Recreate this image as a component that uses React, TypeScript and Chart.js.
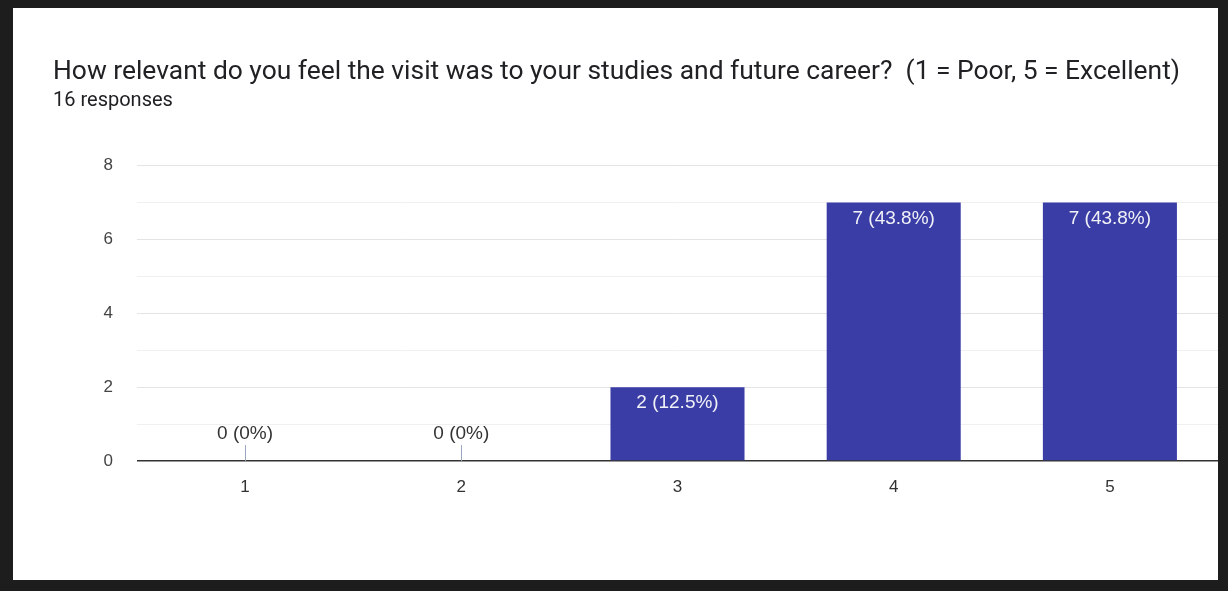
import React, { useEffect, useRef } from 'react';
import { Chart, registerables } from 'chart.js';

Chart.register(...registerables);

const categories = ['1', '2', '3', '4', '5'];
const responses = [0, 0, 2, 7, 7];
const yTickLabels = [0, 2, 4, 6, 8];
const totalResponses = 16;
const titleText =
  'How relevant do you feel the visit was to your studies and future career?  (1 = Poor, 5 = Excellent)';
const subtitleText = '16 responses';

const LABEL_FONT = '"Liberation Sans", Arial, sans-serif';
const TITLE_FONT = 'Roboto, "Noto Sans", sans-serif';

const barLabelPlugin = {
  id: 'barLabels',
  afterDatasetsDraw(chart: any) {
    const ctx = chart.ctx;
    const meta = chart.getDatasetMeta(0);
    const values = chart.data.datasets[0].data as number[];
    const zeroY = chart.scales.y.getPixelForValue(0);
    ctx.save();
    ctx.font = `19px ${LABEL_FONT}`;
    ctx.textAlign = 'center';
    ctx.textBaseline = 'middle';
    meta.data.forEach((bar: any, i: number) => {
      const v = values[i];
      const pct = Number(((v / totalResponses) * 100).toFixed(1));
      const text = `${v} (${pct}%)`;
      if (v > 0) {
        ctx.fillStyle = '#f1f1f8';
        ctx.fillText(text, bar.x, bar.y + 16);
      } else {
        ctx.strokeStyle = '#9aa6bf';
        ctx.lineWidth = 1;
        ctx.beginPath();
        ctx.moveTo(Math.round(bar.x) + 0.5, zeroY);
        ctx.lineTo(Math.round(bar.x) + 0.5, zeroY - 16);
        ctx.stroke();
        ctx.fillStyle = '#333333';
        ctx.fillText(text, bar.x, zeroY - 27);
      }
    });
    ctx.restore();
  },
};

export default function App() {
  const canvasRef = useRef<HTMLCanvasElement | null>(null);

  useEffect(() => {
    if (!canvasRef.current) return;
    const chart = new Chart(canvasRef.current, {
      type: 'bar',
      data: {
        labels: categories,
        datasets: [
          {
            data: responses,
            backgroundColor: '#3a3da5',
            borderWidth: 0,
            barPercentage: 0.62,
            categoryPercentage: 1,
          },
        ],
      },
      options: {
        responsive: false,
        animation: false,
        layout: { padding: { left: 40, right: 0, top: 0, bottom: 79 } },
        plugins: {
          legend: { display: false },
          tooltip: { enabled: false },
          title: {
            display: true,
            text: titleText,
            align: 'start',
            color: '#202124',
            font: { family: TITLE_FONT, size: 26.4, weight: 'normal', lineHeight: 1.2 },
            padding: { top: 49, bottom: 0 },
          },
          subtitle: {
            display: true,
            text: subtitleText,
            align: 'start',
            color: '#202124',
            font: { family: TITLE_FONT, size: 20, weight: 'normal', lineHeight: 1.2 },
            padding: { top: 0, bottom: 53 },
          },
        },
        scales: {
          x: {
            grid: { display: false, drawTicks: false },
            border: { display: false },
            ticks: {
              padding: 16,
              color: '#333333',
              font: { family: LABEL_FONT, size: 17 },
            },
            afterFit: (s: any) => {
              s.height = 40;
            },
          },
          y: {
            min: 0,
            max: 8,
            border: { display: false },
            ticks: {
              stepSize: 1,
              autoSkip: false,
              padding: 24,
              color: '#444444',
              font: { family: LABEL_FONT, size: 17 },
              callback: (v: any) => (yTickLabels.includes(Number(v)) ? String(v) : ''),
            },
            grid: {
              drawTicks: false,
              color: (c: any) =>
                c.tick && c.tick.value === 0
                  ? '#333333'
                  : c.tick && c.tick.value % 2 === 0
                  ? '#e4e4e4'
                  : '#f0f0f0',
              lineWidth: (c: any) => (c.tick && c.tick.value === 0 ? 1.5 : 1),
            },
            afterFit: (s: any) => {
              s.width = 84;
            },
          },
        },
      },
      plugins: [barLabelPlugin],
    });
    return () => chart.destroy();
  }, []);

  return (
    <div
      style={{
        position: 'fixed',
        left: 0,
        top: 0,
        width: 1228,
        height: 591,
        boxSizing: 'border-box',
        borderStyle: 'solid',
        borderColor: '#1d1d1d',
        borderWidth: '8px 10px 11px 13px',
        background: '#ffffff',
      }}
    >
      <canvas ref={canvasRef} width={1205} height={572} style={{ display: 'block' }} />
    </div>
  );
}
